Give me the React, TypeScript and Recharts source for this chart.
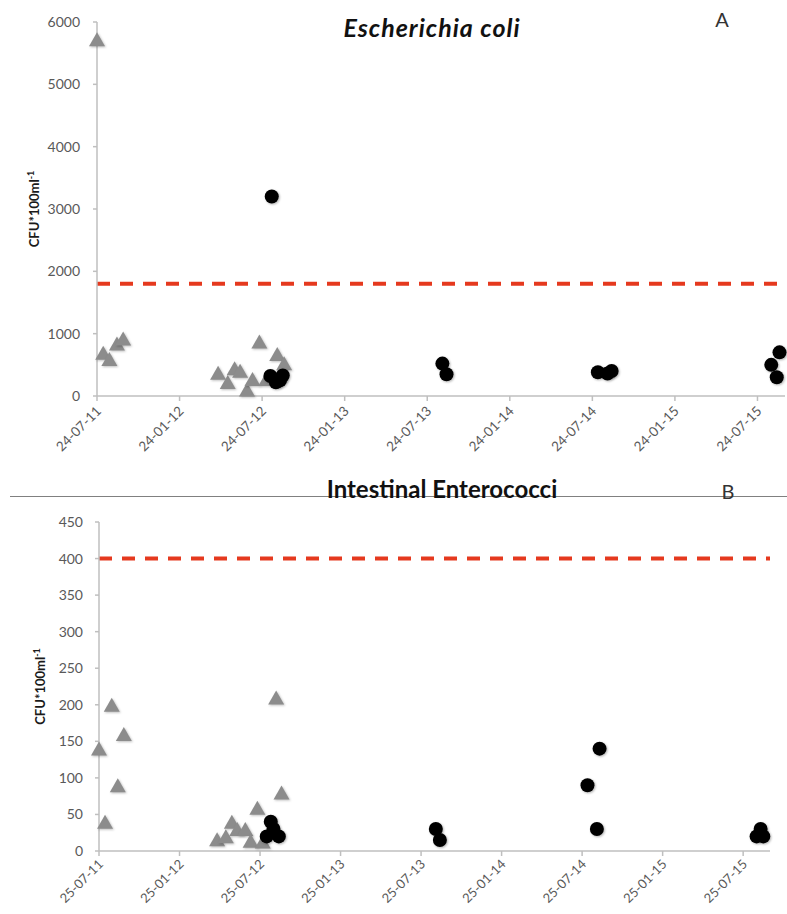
import { ScatterChart, Scatter, XAxis, YAxis, ReferenceLine } from 'recharts'

// x values are months after the first tick (24-07-11 / 25-07-11)
const monthTicks = [0, 6, 12, 18, 24, 30, 36, 42, 48]
const ecoliTickLabels = ['24-07-11', '24-01-12', '24-07-12', '24-01-13', '24-07-13', '24-01-14', '24-07-14', '24-01-15', '24-07-15']
const enteroTickLabels = ['25-07-11', '25-01-12', '25-07-12', '25-01-13', '25-07-13', '25-01-14', '25-07-14', '25-01-15', '25-07-15']

const ecoliYTicks = [0, 1000, 2000, 3000, 4000, 5000, 6000]
const enteroYTicks = [0, 50, 100, 150, 200, 250, 300, 350, 400, 450]

const ecoliLimit = 1800
const enteroLimit = 400

// grey triangles
const ecoliTriMonths = [0, 0.45, 0.9, 1.45, 1.9, 8.8, 9.5, 10.0, 10.4, 10.9, 11.3, 11.8, 12.3, 13.1, 13.6]
const ecoliTriValues = [5700, 670, 570, 820, 900, 350, 200, 420, 380, 80, 250, 850, 250, 650, 500]
// black dots
const ecoliDotMonths = [12.7, 12.6, 13.0, 13.3, 13.5, 25.1, 25.4, 36.4, 37.1, 37.4, 49.0, 49.6, 49.4]
const ecoliDotValues = [3200, 320, 220, 250, 330, 520, 350, 380, 360, 400, 500, 700, 300]

const enteroTriMonths = [0, 0.45, 0.95, 1.4, 1.85, 8.8, 9.45, 9.9, 10.3, 10.9, 11.3, 11.8, 12.2, 13.2, 13.6]
const enteroTriValues = [138, 38, 198, 88, 158, 14, 18, 38, 28, 28, 12, 57, 11, 208, 78]
const enteroDotMonths = [12.5, 12.8, 13.0, 13.4, 25.1, 25.4, 36.4, 37.1, 37.3, 49.0, 49.3, 49.5]
const enteroDotValues = [20, 40, 30, 20, 30, 15, 90, 30, 140, 20, 30, 20]

const toPoints = (months: number[], values: number[]) =>
  months.map((m, i) => ({ m, v: values[i] }))

const FONT = 'Lato, "Open Sans", sans-serif'
const AXIS = '#bfbfbf'
const TICK_TEXT = '#595959'
const LIMIT_RED = '#e5391e'

function Triangle(props: any) {
  const { cx, cy } = props
  if (cx == null || cy == null) return null
  return (
    <path
      d={`M${cx},${cy - 8.5} L${cx + 8},${cy + 5.5} L${cx - 8},${cy + 5.5} Z`}
      fill="#8c8c8c"
      style={{ filter: 'drop-shadow(1px 1.5px 1.2px rgba(0,0,0,0.25))' }}
    />
  )
}

function Dot(props: any) {
  const { cx, cy } = props
  if (cx == null || cy == null) return null
  return (
    <circle
      cx={cx}
      cy={cy}
      r={7}
      fill="#000"
      style={{ filter: 'drop-shadow(1px 1.5px 1px rgba(0,0,0,0.3))' }}
    />
  )
}

function DateTick(props: any) {
  const { x, y, payload, labels, dy, size } = props
  const label = labels[monthTicks.indexOf(payload.value)]
  const ax = x + 5
  const ay = y + dy
  return (
    <text
      x={ax}
      y={ay}
      transform={`rotate(-45, ${ax}, ${ay})`}
      textAnchor="end"
      fontSize={size}
      fontFamily={FONT}
      fill={TICK_TEXT}
    >
      {label}
    </text>
  )
}

function UnitLabel(props: any) {
  const { viewBox, left } = props
  const cx = viewBox.x + left
  const cy = viewBox.y + viewBox.height / 2
  return (
    <text
      x={cx}
      y={cy}
      transform={`rotate(-90, ${cx}, ${cy})`}
      textAnchor="middle"
      fontSize={13}
      fontWeight="bold"
      fontFamily={FONT}
      fill="#1a1a1a"
    >
      CFU*100ml
      <tspan fontSize={9} dy={-5}>-1</tspan>
    </text>
  )
}

export default function App() {
  const ecoliTri = toPoints(ecoliTriMonths, ecoliTriValues)
  const ecoliDot = toPoints(ecoliDotMonths, ecoliDotValues)
  const enteroTri = toPoints(enteroTriMonths, enteroTriValues)
  const enteroDot = toPoints(enteroDotMonths, enteroDotValues)

  const tickStyle = { fontSize: 14, fontFamily: FONT, fill: TICK_TEXT }

  return (
    <div style={{ position: 'absolute', left: 0, top: 0, width: 787, height: 914, background: '#fff' }}>
      {/* A: Escherichia coli */}
      <div style={{ position: 'absolute', left: 0, top: 0 }}>
        <ScatterChart width={787} height={480} margin={{ top: 22, right: 2, bottom: 0, left: 0 }}>
          <XAxis
            type="number"
            dataKey="m"
            domain={[0, 50]}
            ticks={monthTicks}
            height={84}
            stroke={AXIS}
            strokeWidth={1.5}
            tickSize={5}
            tick={<DateTick labels={ecoliTickLabels} dy={9} size={13.5} />}
          />
          <YAxis
            type="number"
            dataKey="v"
            domain={[0, 6000]}
            ticks={ecoliYTicks}
            width={97}
            stroke={AXIS}
            strokeWidth={1.5}
            tickSize={4}
            tickMargin={13}
            tick={tickStyle}
            label={<UnitLabel left={39} />}
          />
          <ReferenceLine y={ecoliLimit} stroke={LIMIT_RED} strokeWidth={4} strokeDasharray="13 10" />
          <Scatter data={ecoliTri} shape={<Triangle />} isAnimationActive={false} />
          <Scatter data={ecoliDot} shape={<Dot />} isAnimationActive={false} />
        </ScatterChart>
      </div>

      {/* B: Intestinal Enterococci */}
      <div style={{ position: 'absolute', left: 0, top: 500 }}>
        <ScatterChart width={787} height={414} margin={{ top: 22, right: 17, bottom: 0, left: 0 }}>
          <XAxis
            type="number"
            dataKey="m"
            domain={[0, 50]}
            ticks={monthTicks}
            height={63}
            stroke={AXIS}
            strokeWidth={1.5}
            tickSize={5}
            tick={<DateTick labels={enteroTickLabels} dy={7} size={13} />}
          />
          <YAxis
            type="number"
            dataKey="v"
            domain={[0, 450]}
            ticks={enteroYTicks}
            width={99}
            stroke={AXIS}
            strokeWidth={1.5}
            tickSize={4}
            tickMargin={12}
            tick={tickStyle}
            label={<UnitLabel left={45} />}
          />
          <ReferenceLine y={enteroLimit} stroke={LIMIT_RED} strokeWidth={4} strokeDasharray="13 10" />
          <Scatter data={enteroTri} shape={<Triangle />} isAnimationActive={false} />
          <Scatter data={enteroDot} shape={<Dot />} isAnimationActive={false} />
        </ScatterChart>
      </div>

      {/* titles, panel letters and separator */}
      <svg
        width={787}
        height={914}
        style={{ position: 'absolute', left: 0, top: 0, pointerEvents: 'none' }}
      >
        <text x={432} y={37} textAnchor="middle" fontSize={25} letterSpacing={1} fontWeight="bold" fontStyle="italic" fontFamily={FONT} fill="#111">
          Escherichia coli
        </text>
        <text x={722} y={27} textAnchor="middle" fontSize={20} fontFamily={FONT} fill="#333">
          A
        </text>
        <line x1={10} y1={496.5} x2={787} y2={496.5} stroke="#808080" strokeWidth={1} />
        <text x={442} y={498} textAnchor="middle" fontSize={24} fontWeight="bold" fontFamily={FONT} fill="#111">
          Intestinal Enterococci
        </text>
        <text x={728} y={499} textAnchor="middle" fontSize={20} fontFamily={FONT} fill="#333">
          B
        </text>
      </svg>
    </div>
  )
}
